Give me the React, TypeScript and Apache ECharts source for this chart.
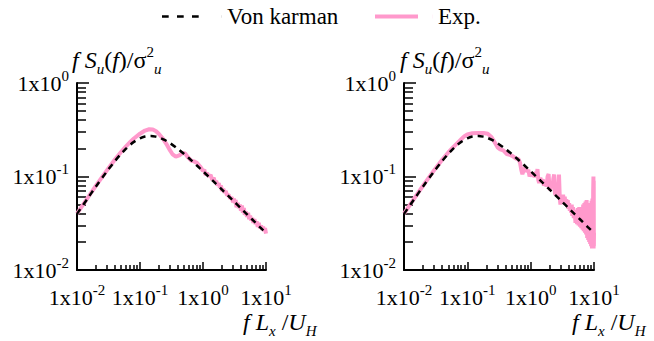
import { useEffect, useRef } from 'react';
import * as echarts from 'echarts';

// ---- data ----
const xMajorTicks = [0.01, 0.1, 1, 10];
const yMajorTicks = [0.01, 0.1, 1];
const minorFactors = [2, 3, 4, 5, 6, 7, 8, 9];
const xDecades = [0.01, 0.1, 1];
const yDecades = [0.01, 0.1];

const vkFreq = [0.01, 0.015, 0.02, 0.03, 0.04, 0.05, 0.06, 0.07, 0.08, 0.1, 0.12, 0.15, 0.18, 0.2, 0.25, 0.3, 0.4, 0.5, 0.6, 0.8, 1, 1.5, 2, 3, 4, 5, 6, 8, 10];
const vkValues = [0.0398, 0.0592, 0.0782, 0.114, 0.1463, 0.1746, 0.1986, 0.2185, 0.2344, 0.2561, 0.2673, 0.2713, 0.2667, 0.2613, 0.2445, 0.2272, 0.1974, 0.1744, 0.1566, 0.1311, 0.1138, 0.0874, 0.0723, 0.0553, 0.0457, 0.0394, 0.0349, 0.0288, 0.0249];

const expLeftFreq = [0.01, 0.015, 0.02, 0.03, 0.04, 0.05, 0.06, 0.07, 0.08, 0.1, 0.12, 0.14, 0.16, 0.18, 0.2, 0.23, 0.26, 0.3, 0.33, 0.37, 0.42, 0.47, 0.52, 0.58, 0.65, 0.72, 0.8, 0.9, 1.0, 1.05, 1.1, 1.15, 1.25, 1.32, 1.4, 1.48, 1.55, 1.62, 1.7, 1.78, 1.85, 1.93, 2.0, 2.1, 2.2, 2.3, 2.4, 2.55, 2.7, 2.85, 3.0, 3.1, 3.2, 3.3, 3.4, 3.55, 3.7, 3.85, 4.0, 4.15, 4.3, 4.45, 4.6, 4.8, 5.0, 5.2, 5.4, 5.6, 5.8, 6.05, 6.3, 6.55, 6.8, 7.1, 7.4, 7.7, 8.0, 8.35, 8.7, 9.0, 9.3, 9.65, 10];
const expLeftValues = [0.04, 0.06, 0.08, 0.117, 0.152, 0.183, 0.21, 0.234, 0.255, 0.287, 0.31, 0.32, 0.318, 0.305, 0.285, 0.255, 0.225, 0.19, 0.172, 0.163, 0.168, 0.178, 0.176, 0.16, 0.148, 0.145, 0.14, 0.128, 0.115, 0.118, 0.104, 0.109, 0.1, 0.104, 0.092, 0.097, 0.086, 0.09, 0.08, 0.085, 0.076, 0.08, 0.07, 0.074, 0.067, 0.07, 0.063, 0.064, 0.058, 0.06, 0.053, 0.058, 0.052, 0.056, 0.047, 0.052, 0.046, 0.05, 0.043, 0.049, 0.041, 0.046, 0.039, 0.042, 0.037, 0.041, 0.035, 0.038, 0.034, 0.036, 0.032, 0.035, 0.031, 0.033, 0.029, 0.032, 0.028, 0.030, 0.027, 0.029, 0.026, 0.028, 0.0245];

const expRightFreq = [0.01, 0.015, 0.02, 0.03, 0.04, 0.05, 0.06, 0.07, 0.08, 0.09, 0.1, 0.12, 0.15, 0.18, 0.21, 0.24, 0.27, 0.3, 0.33, 0.37, 0.42, 0.47, 0.52, 0.58,
  0.64, 0.68, 0.71, 0.74, 0.77, 0.8, 0.84, 0.88, 0.92, 0.96, 1.0, 1.05, 1.1, 1.15, 1.2, 1.25, 1.28, 1.32, 1.36, 1.42, 1.48, 1.55, 1.62, 1.7, 1.78, 1.85, 1.92, 1.98,
  2.05, 2.12, 2.2, 2.28, 2.35, 2.42, 2.5, 2.6, 2.7, 2.8, 2.88, 2.95, 3.05, 3.15, 3.25, 3.35, 3.45, 3.55, 3.65, 3.75, 3.85, 3.95, 4.05, 4.15, 4.25, 4.35, 4.45, 4.55,
  4.65, 4.8, 4.95, 5.1, 5.25, 5.4, 5.55, 5.7, 5.85, 6.0, 6.15, 6.3, 6.45, 6.6, 6.75, 6.9, 7.05, 7.2, 7.35, 7.5, 7.65, 7.8, 7.95, 8.1, 8.25, 8.4, 8.55, 8.7, 8.85,
  9.0, 9.15, 9.3, 9.45, 9.6, 9.7, 9.8, 9.85, 9.9, 9.95, 10];
const expRightValues = [0.04, 0.06, 0.08, 0.117, 0.151, 0.181, 0.206, 0.229, 0.25, 0.27, 0.282, 0.29, 0.292, 0.292, 0.286, 0.265, 0.232, 0.205, 0.195, 0.19, 0.174, 0.17, 0.165, 0.156,
  0.154, 0.14, 0.118, 0.106, 0.115, 0.122, 0.124, 0.112, 0.118, 0.1, 0.108, 0.102, 0.11, 0.098, 0.112, 0.104, 0.12, 0.092, 0.085, 0.097, 0.088, 0.093, 0.08, 0.088, 0.078, 0.1, 0.106, 0.076,
  0.072, 0.085, 0.075, 0.095, 0.105, 0.066, 0.063, 0.075, 0.068, 0.105, 0.06, 0.05, 0.062, 0.055, 0.064, 0.052, 0.061, 0.05, 0.057, 0.048, 0.056, 0.045, 0.052, 0.043, 0.05, 0.041, 0.05, 0.038,
  0.047, 0.036, 0.044, 0.032, 0.043, 0.031, 0.046, 0.03, 0.047, 0.029, 0.042, 0.028, 0.044, 0.027, 0.05, 0.026, 0.052, 0.025, 0.054, 0.024, 0.056, 0.022, 0.05, 0.021, 0.052, 0.02, 0.048, 0.019, 0.05,
  0.018, 0.055, 0.017, 0.058, 0.017, 0.07, 0.1, 0.017, 0.09, 0.018, 0.025];

const FONT = "'Liberation Serif', 'Times New Roman', serif";
const PINK = '#ff99cc';

const pairs = (xs: number[], ys: number[]) => xs.map((x, i) => [x, ys[i]]);
const minorOf = (decades: number[]) => decades.flatMap((d) => minorFactors.map((m) => +(d * m).toPrecision(3)));

const labelRich = {
  b: { fontSize: 22, fontFamily: FONT, color: '#000', lineHeight: 30 },
  sup: { fontSize: 15, fontFamily: FONT, color: '#000', lineHeight: 16, verticalAlign: 'top' as const },
};
const fmt = (v: number) => `{b|1x10}{sup|${Math.round(Math.log10(v))}}`;

const titleRich = {
  i: { fontSize: 24, fontFamily: FONT, fontStyle: 'italic' as const, fill: '#000', lineHeight: 32 },
  n: { fontSize: 24, fontFamily: FONT, fill: '#000', lineHeight: 32 },
  sub: { fontSize: 15, fontFamily: FONT, fontStyle: 'italic' as const, fill: '#000', lineHeight: 18, verticalAlign: 'bottom' as const },
  sup: { fontSize: 15, fontFamily: FONT, fill: '#000', lineHeight: 18, verticalAlign: 'top' as const },
};

const grids = [
  { left: 77, top: 83, width: 189, height: 187 },
  { left: 404, top: 83, width: 190, height: 187 },
];

export default function App() {
  const ref = useRef<HTMLDivElement>(null);
  useEffect(() => {
    if (!ref.current) return;
    const chart = echarts.init(ref.current, undefined, { renderer: 'svg' });
    const xAxis: any[] = [];
    const yAxis: any[] = [];
    grids.forEach((_, g) => {
      xAxis.push({
        type: 'log', logBase: 10, min: 0.01, max: 10, gridIndex: g, position: 'bottom',
        axisLine: { show: true, lineStyle: { color: '#000', width: 2 } },
        axisTick: { show: true, inside: true, length: 8, lineStyle: { color: '#000', width: 1.5 }, customValues: xMajorTicks },
        axisLabel: { show: true, margin: 12, fontFamily: FONT, fontSize: 22, color: '#000', formatter: fmt, rich: labelRich, customValues: xMajorTicks },
        splitLine: { show: false },
      });
      xAxis.push({
        type: 'log', logBase: 10, min: 0.01, max: 10, gridIndex: g, position: 'bottom',
        axisLine: { show: false },
        axisTick: { show: true, inside: true, length: 5, lineStyle: { color: '#000', width: 1.5 }, customValues: minorOf(xDecades) },
        axisLabel: { show: false },
        splitLine: { show: false },
      });
      yAxis.push({
        type: 'log', logBase: 10, min: 0.01, max: 1, gridIndex: g, position: 'left',
        axisLine: { show: true, lineStyle: { color: '#000', width: 2 } },
        axisTick: { show: true, inside: true, length: 12, lineStyle: { color: '#000', width: 1.5 }, customValues: yMajorTicks },
        axisLabel: { show: true, margin: 8, fontFamily: FONT, fontSize: 22, color: '#000', formatter: fmt, rich: labelRich, customValues: yMajorTicks },
        splitLine: { show: false },
      });
      yAxis.push({
        type: 'log', logBase: 10, min: 0.01, max: 1, gridIndex: g, position: 'left',
        axisLine: { show: false },
        axisTick: { show: true, inside: true, length: 9, lineStyle: { color: '#000', width: 1.5 }, customValues: minorOf(yDecades) },
        axisLabel: { show: false },
        splitLine: { show: false },
      });
    });

    const expSeries = (g: number, xs: number[], ys: number[]) => ({
      name: 'Exp.', type: 'line', xAxisIndex: 2 * g, yAxisIndex: 2 * g,
      data: pairs(xs, ys), symbol: 'none', showSymbol: false, z: 2,
      lineStyle: { color: PINK, width: 4 }, itemStyle: { color: PINK },
    });
    const vkSeries = (g: number) => ({
      name: 'Von karman', type: 'line', xAxisIndex: 2 * g, yAxisIndex: 2 * g,
      data: pairs(vkFreq, vkValues), symbol: 'none', showSymbol: false, smooth: 0.3, z: 3,
      lineStyle: { color: '#000', width: 2.5, type: [6, 5] }, itemStyle: { color: '#000' },
    });

    const yTitle = (left: number) => ({
      type: 'text', left, top: 44,
      style: { text: '{i|f }{i|S}{sub|u}{n|(}{i|f}{n|)/σ}{sup|2}{sub|u}', rich: titleRich },
    });
    const xTitle = (left: number) => ({
      type: 'text', left, top: 310,
      style: { text: '{i|f L}{sub|x}{n| /}{i|U}{sub|H}', rich: titleRich },
    });

    const legendText = { fontSize: 23, fontFamily: FONT, color: '#000' };
    chart.setOption({
      animation: false,
      backgroundColor: '#fff',
      legend: [
        {
          top: 0, left: 157, itemWidth: 60, itemHeight: 14,
          data: [{ name: 'Von karman', icon: 'path://M0 0h6.7v2.5H0zM15 0h6.7v2.5H15zM30 0h6.7v2.5H30zM59.9 0h0.1v2.5h-0.1z' }],
          textStyle: legendText,
        },
        {
          top: 0, left: 370, itemWidth: 58, itemHeight: 14,
          data: [{ name: 'Exp.', icon: 'path://M0 0h43v4H0zM57.9 0h0.1v4h-0.1z' }],
          textStyle: legendText,
        },
      ],
      grid: grids,
      xAxis, yAxis,
      series: [expSeries(0, expLeftFreq, expLeftValues), vkSeries(0), expSeries(1, expRightFreq, expRightValues), vkSeries(1)],
      graphic: [yTitle(72), yTitle(400), xTitle(243), xTitle(572)],
    });
    return () => chart.dispose();
  }, []);
  return <div ref={ref} style={{ position: 'fixed', left: 0, top: 0, width: 654, height: 341 }} />;
}
